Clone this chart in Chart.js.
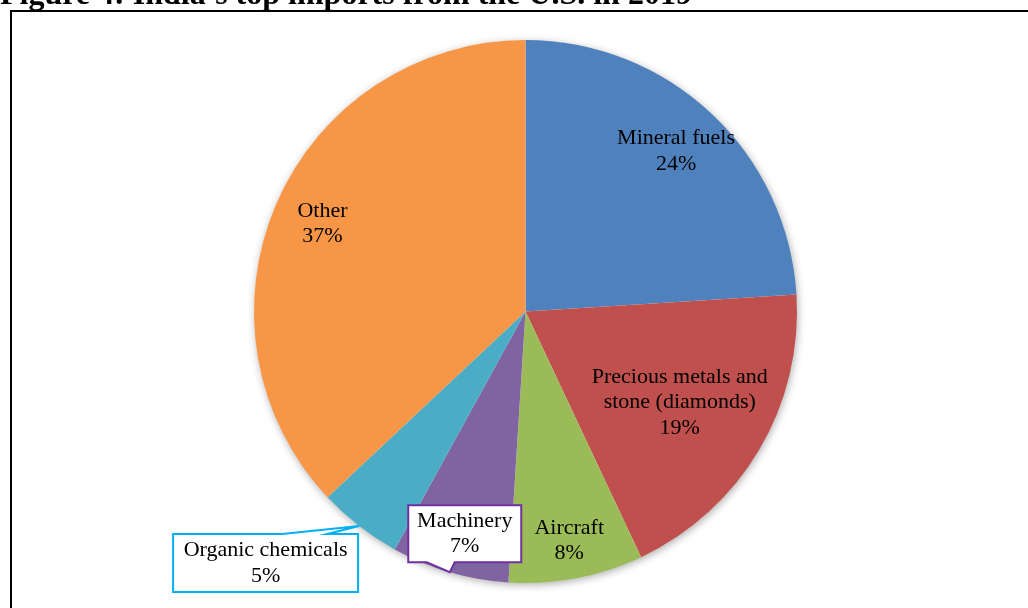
<!DOCTYPE html>
<html>
<head>
<meta charset="utf-8">
<title>India's top imports from the U.S. in 2019</title>
<script src="https://cdn.jsdelivr.net/npm/chart.js@4.4.1/dist/chart.umd.min.js"></script>
<style>
  html, body { margin: 0; padding: 0; background: #fff; overflow: hidden; }
  #wrap { position: relative; width: 1028px; height: 608px; }
  #frame { position: absolute; left: 10px; top: 10px; width: 1100px; height: 700px; border: 2px solid #000; box-sizing: border-box; }
  #importsChart { position: absolute; left: 0; top: 0; }
</style>
</head>
<body>
<div id="wrap">
  <div id="frame"></div>
  <canvas id="importsChart" width="1028" height="608"></canvas>
</div>
<script>
const titleText = "Figure 4: India\u2019s top imports from the U.S. in 2019";
const categories = ["Mineral fuels", "Precious metals and stone (diamonds)", "Aircraft", "Machinery", "Organic chemicals", "Other"];
const labelLines = [["Mineral fuels"], ["Precious metals and", "stone (diamonds)"], ["Aircraft"], ["Machinery"], ["Organic chemicals"], ["Other"]];
const shares = [24, 19, 8, 7, 5, 37];
const sliceColors = ["#4F81BD", "#C0504D", "#9BBB59", "#8064A2", "#4BACC6", "#F79646"];

// where each label sits: fraction of the radius along the slice's middle angle,
// or a callout box hanging off the rim
const labelPlacement = [
	{ f: 0.81 },
	{ f: 0.66 },
	{ f: 0.86 },
	{ box: { dx: 15, dy: -38.5, w: 113, h: 57, edge: "bottom", base: [-23, 5], color: "#7030A0" } },
	{ box: { dx: -93.5, dy: 37, w: 185, h: 58, edge: "top", base: [-77, -32], color: "#00B0F0" } },
	{ f: 0.815 }
];

const labelFont = "22px 'Liberation Serif', 'Times New Roman', serif";
const lineHeight = 25.5;

const pieShadow = {
	id: "pieShadow",
	beforeDatasetsDraw(chart) {
		const arc = chart.getDatasetMeta(0).data[0];
		if (!arc) return;
		const { x, y, outerRadius } = arc.getProps(["x", "y", "outerRadius"], true);
		const ctx = chart.ctx;
		ctx.save();
		ctx.shadowColor = "rgba(0,0,0,0.35)";
		ctx.shadowBlur = 9;
		ctx.shadowOffsetX = 1;
		ctx.shadowOffsetY = 2;
		ctx.fillStyle = "#fff";
		ctx.beginPath();
		ctx.arc(x, y, outerRadius - 0.5, 0, Math.PI * 2);
		ctx.fill();
		ctx.restore();
	}
};

const sliceLabels = {
	id: "sliceLabels",
	afterDatasetsDraw(chart) {
		const ctx = chart.ctx;
		const meta = chart.getDatasetMeta(0);
		ctx.save();
		ctx.font = labelFont;
		ctx.fillStyle = "#000";
		ctx.textAlign = "center";
		ctx.textBaseline = "middle";
		meta.data.forEach((arc, i) => {
			const p = arc.getProps(["x", "y", "startAngle", "endAngle", "outerRadius"], true);
			const mid = (p.startAngle + p.endAngle) / 2;
			const lines = labelLines[i].concat([shares[i] + "%"]);
			const place = labelPlacement[i];
			let cx, cy;
			if (place.box) {
				const b = place.box;
				const tipX = p.x + Math.cos(mid) * p.outerRadius;
				const tipY = p.y + Math.sin(mid) * p.outerRadius;
				cx = tipX + b.dx;
				cy = tipY + b.dy;
				const l = cx - b.w / 2, r = cx + b.w / 2, t = cy - b.h / 2, btm = cy + b.h / 2;
				ctx.beginPath();
				ctx.moveTo(l, t);
				if (b.edge === "top") {
					ctx.lineTo(tipX + b.base[0], t);
					ctx.lineTo(tipX, tipY);
					ctx.lineTo(tipX + b.base[1], t);
				}
				ctx.lineTo(r, t);
				ctx.lineTo(r, btm);
				if (b.edge === "bottom") {
					ctx.lineTo(tipX + b.base[1], btm);
					ctx.lineTo(tipX, tipY);
					ctx.lineTo(tipX + b.base[0], btm);
				}
				ctx.lineTo(l, btm);
				ctx.closePath();
				ctx.fillStyle = "#fff";
				ctx.fill();
				ctx.lineWidth = 2;
				ctx.strokeStyle = b.color;
				ctx.stroke();
				ctx.fillStyle = "#000";
			} else {
				cx = p.x + Math.cos(mid) * p.outerRadius * place.f;
				cy = p.y + Math.sin(mid) * p.outerRadius * place.f;
			}
			const top = cy - (lines.length - 1) * lineHeight / 2;
			lines.forEach((line, k) => ctx.fillText(line, cx, top + k * lineHeight));
		});

		// figure caption, partly cut off by the page edge
		ctx.font = "bold 32px 'Liberation Serif', 'Times New Roman', serif";
		ctx.textAlign = "left";
		ctx.textBaseline = "alphabetic";
		ctx.fillText(titleText, 0, 4);
		ctx.restore();
	}
};

const importsChart = document.getElementById("importsChart");

new Chart(importsChart, {
	type: "pie",
	data: {
		labels: categories,
		datasets: [
			{
				data: shares,
				backgroundColor: sliceColors,
				borderWidth: 0
			}
		]
	},
	options: {
		responsive: false,
		animation: false,
		layout: {
			padding: { left: 23, right: 0, top: 40, bottom: 25 }
		},
		plugins: {
			legend: { display: false },
			tooltip: { enabled: false }
		}
	},
	plugins: [pieShadow, sliceLabels]
});
</script>
</body>
</html>
